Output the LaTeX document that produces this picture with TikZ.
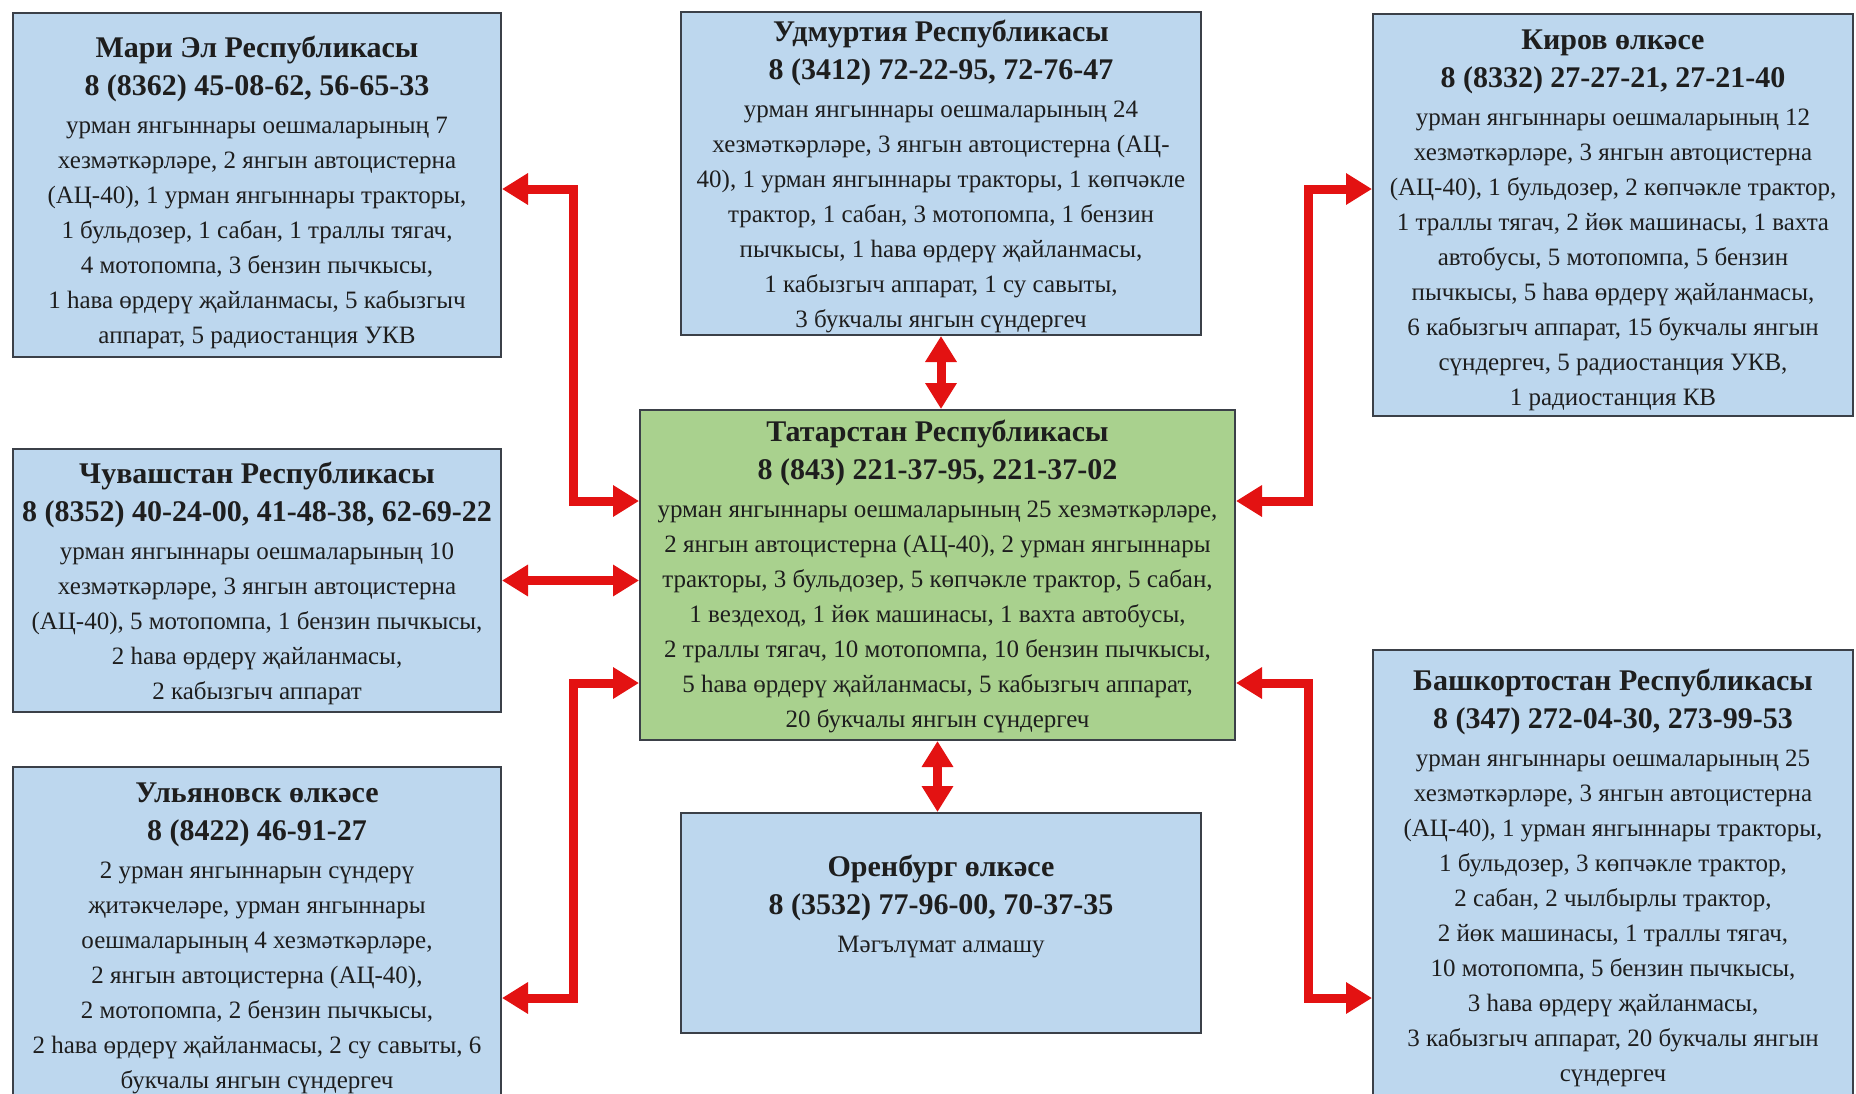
\documentclass[tikz,border=0pt]{standalone}
\usepackage{fontspec}
\setmainfont{Liberation Serif}
\usetikzlibrary{arrows.meta}
\definecolor{boxblue}{HTML}{BDD7EE}
\definecolor{boxgreen}{HTML}{A9D18E}
\definecolor{boxline}{HTML}{3B4048}
\definecolor{arrred}{HTML}{E31212}
\definecolor{ink}{HTML}{1E1E1E}
\newcommand{\ttl}{\fontsize{30}{35}\selectfont\bfseries}
\newcommand{\padtop}[1]{\rule{0pt}{#1pt}}

\begin{document}
\begin{tikzpicture}[x=1pt,y=-1pt,
  region/.style={draw=boxline,line width=2pt,fill=boxblue,text=ink,inner sep=0pt,
    align=center,font=\fontsize{25}{35}\selectfont},
  link/.style={draw=arrred,line width=9pt,<->,>={Triangle[length=26pt,width=30pt]}}]
%picture
\clip (0,0) rectangle (1856,1093);
\fill[white] (0,0) rectangle (1856,1093);
\node[region,minimum width=488pt,minimum height=344pt] (mari) at (257,185)
  {{\ttl\padtop{36}Мари Эл Республикасы}\\[3pt]{\ttl 8 (8362) 45-08-62, 56-65-33}\\[3pt]
   урман янгыннары оешмаларының 7\\хезмәткәрләре,  2 янгын автоцистерна\\
   (АЦ-40), 1 урман янгыннары тракторы,\\1 бульдозер, 1 сабан, 1 траллы тягач,\\
   4 мотопомпа, 3 бензин пычкысы,\\1 һава өрдерү җайланмасы, 5 кабызгыч\\
   аппарат, 5 радиостанция УКВ};
\node[region,minimum width=520pt,minimum height=323pt] (udm) at (941,173.5)
  {{\ttl\padtop{28}Удмуртия Республикасы}\\[3pt]{\ttl 8 (3412) 72-22-95, 72-76-47}\\[3pt]
   урман янгыннары оешмаларының 24\\хезмәткәрләре,  3 янгын автоцистерна (АЦ-\\
   40), 1 урман янгыннары тракторы, 1 көпчәкле\\трактор, 1 сабан, 3 мотопомпа, 1 бензин\\
   пычкысы, 1 һава өрдерү җайланмасы,\\1 кабызгыч аппарат, 1 су савыты,\\
   3 букчалы  янгын сүндергеч};
\node[region,minimum width=480pt,minimum height=402pt] (kirov) at (1613,215)
  {{\ttl\padtop{31}Киров өлкәсе}\\[3pt]{\ttl 8 (8332) 27-27-21, 27-21-40}\\[3pt]
   урман янгыннары оешмаларының 12\\хезмәткәрләре,  3 янгын автоцистерна\\
   (АЦ-40), 1 бульдозер,  2 көпчәкле трактор,\\1 траллы тягач, 2 йөк машинасы, 1 вахта\\
   автобусы, 5 мотопомпа, 5 бензин\\пычкысы, 5 һава өрдерү җайланмасы,\\
   6 кабызгыч аппарат, 15 букчалы  янгын\\сүндергеч, 5 радиостанция УКВ,\\
   1 радиостанция КВ};
\node[region,minimum width=488pt,minimum height=263pt] (chuv) at (257,580.5)
  {{\ttl\padtop{28}Чувашстан Республикасы}\\[3pt]{\ttl 8 (8352) 40-24-00, 41-48-38, 62-69-22}\\[3pt]
   урман янгыннары оешмаларының 10\\хезмәткәрләре,  3 янгын автоцистерна\\
   (АЦ-40), 5 мотопомпа, 1 бензин пычкысы,\\2 һава өрдерү җайланмасы,\\
   2 кабызгыч аппарат};
\node[region,fill=boxgreen,minimum width=595pt,minimum height=330pt] (tat) at (937.5,575)
  {{\ttl\padtop{24}Татарстан Республикасы}\\[3pt]{\ttl 8 (843) 221-37-95, 221-37-02}\\[3pt]
   урман янгыннары оешмаларының 25 хезмәткәрләре,\\2 янгын автоцистерна (АЦ-40), 2 урман янгыннары\\
   тракторы, 3 бульдозер,  5 көпчәкле  трактор, 5 сабан,\\1 вездеход, 1 йөк машинасы, 1 вахта автобусы,\\
   2 траллы тягач,  10 мотопомпа, 10 бензин пычкысы,\\5 һава өрдерү җайланмасы, 5 кабызгыч  аппарат,\\
   20 букчалы  янгын сүндергеч};
\node[region,minimum width=488pt,minimum height=336pt] (ulya) at (257,935)
  {{\ttl\padtop{27}Ульяновск өлкәсе}\\[3pt]{\ttl 8 (8422) 46-91-27}\\[3pt]
   2 урман янгыннарын сүндерү\\җитәкчеләре, урман  янгыннары\\
   оешмаларының 4 хезмәткәрләре,\\2 янгын автоцистерна (АЦ-40),\\
   2 мотопомпа, 2 бензин пычкысы,\\2 һава өрдерү җайланмасы, 2 су савыты, 6\\
   букчалы  янгын сүндергеч};
\node[region,minimum width=520pt,minimum height=220pt] (oren) at (941,923)
  {{\ttl Оренбург өлкәсе}\\[3pt]{\ttl 8 (3532) 77-96-00, 70-37-35}\\[3pt]
   Мәгълүмат алмашу\rule[-38pt]{0pt}{38pt}};
\node[region,minimum width=480pt,minimum height=452pt] (bash) at (1613,876)
  {{\ttl\padtop{26}Башкортостан Республикасы}\\[3pt]{\ttl 8 (347) 272-04-30, 273-99-53}\\[3pt]
   урман янгыннары оешмаларының 25\\хезмәткәрләре,  3 янгын автоцистерна\\
   (АЦ-40), 1 урман янгыннары тракторы,\\1 бульдозер,  3 көпчәкле трактор,\\
   2 сабан, 2 чылбырлы трактор,\\2 йөк машинасы, 1 траллы тягач,\\
   10 мотопомпа, 5 бензин пычкысы,\\3 һава өрдерү җайланмасы,\\
   3 кабызгыч аппарат, 20 букчалы  янгын\\сүндергеч};
%bends
\coordinate (lu1) at (573,189);
\coordinate (lu2) at (573,501);
\coordinate (ld1) at (573,683);
\coordinate (ld2) at (573,998);
\coordinate (ru1) at (1308,189);
\coordinate (ru2) at (1308,501);
\coordinate (rd1) at (1308,683);
\coordinate (rd2) at (1308,998);
%arrows
\draw[link] (mari.east |- lu1) -- (lu1) -- (lu2) -- (tat.west |- lu2);
\draw[link] (chuv.east) -- (tat.west |- chuv.east);
\draw[link] (tat.west |- ld1) -- (ld1) -- (ld2) -- (ulya.east |- ld2);
\draw[link] (kirov.west |- ru1) -- (ru1) -- (ru2) -- (tat.east |- ru2);
\draw[link] (tat.east |- rd1) -- (rd1) -- (rd2) -- (bash.west |- rd2);
\draw[link] (udm.south) -- (udm.south |- tat.north);
\draw[link] (tat.south) -- (tat.south |- oren.north);
\end{tikzpicture}
\end{document}
